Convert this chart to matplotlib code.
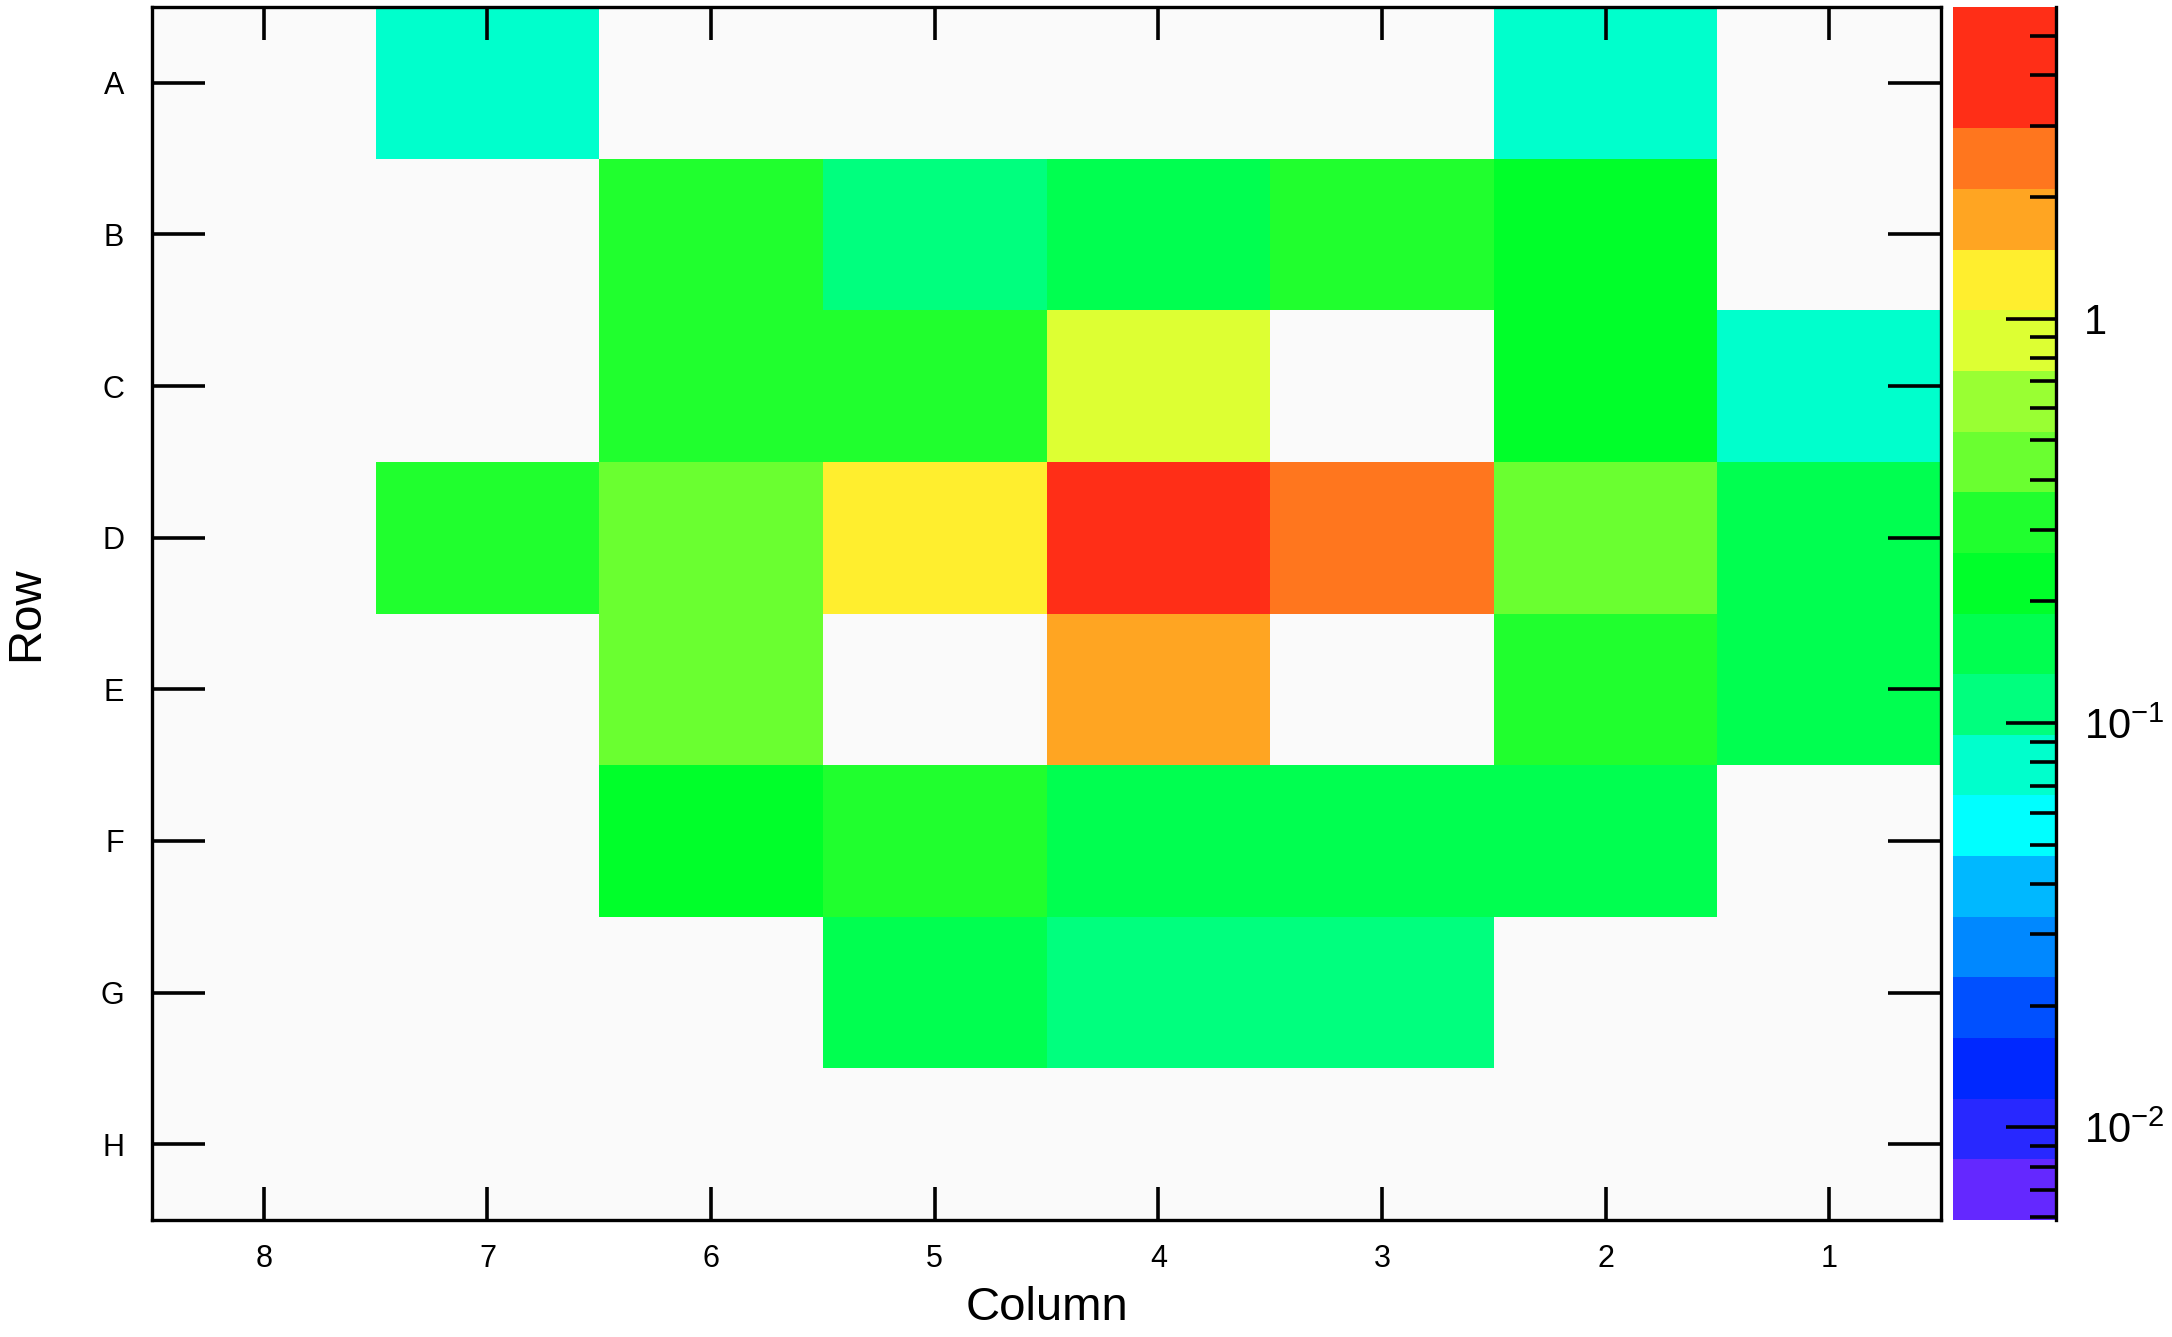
import numpy as np
import matplotlib
matplotlib.use("Agg")
import matplotlib.pyplot as plt
from matplotlib.colors import ListedColormap, LogNorm
from matplotlib.ticker import LogLocator, FuncFormatter

plt.rcParams['font.family'] = ['Liberation Sans', 'DejaVu Sans']
plt.rcParams['mathtext.fontset'] = 'custom'
plt.rcParams['mathtext.rm'] = 'Liberation Sans'

# filas y columnas del mapa (columnas de izquierda a derecha)
rows = ['A', 'B', 'C', 'D', 'E', 'F', 'G', 'H']
columns = [8, 7, 6, 5, 4, 3, 2, 1]

nan = np.nan
row_A = [nan, 0.078, nan, nan, nan, nan, 0.076, nan]
row_B = [nan, nan, 0.31, 0.115, 0.16, 0.30, 0.22, nan]
row_C = [nan, nan, 0.32, 0.30, 0.88, nan, 0.23, 0.079]
row_D = [nan, 0.30, 0.45, 1.25, 5.9, 2.5, 0.44, 0.16]
row_E = [nan, nan, 0.46, nan, 1.75, nan, 0.31, 0.155]
row_F = [nan, nan, 0.22, 0.31, 0.16, 0.155, 0.16, nan]
row_G = [nan, nan, nan, 0.16, 0.11, 0.112, nan, nan]
row_H = [nan] * 8

values = np.array([row_A, row_B, row_C, row_D, row_E, row_F, row_G, row_H])

# paleta tipo arcoiris con 20 niveles
palette = ['#6428FF', '#2828FF', '#0028FF', '#0050FF', '#0088FF',
           '#00B8FF', '#00FFFF', '#00FFCC', '#00FF7E', '#00FF50',
           '#00FF2A', '#20FF2E', '#6AFF30', '#99FF33', '#DDFF33',
           '#FFEE2E', '#FFA522', '#FF761E', '#FF2E17', '#FF2E17']
cmap = ListedColormap(palette)

zmax = np.nanmax(values)
zmin = zmax / 1000

W, H = 2172, 1337
fig = plt.figure(figsize=(W / 100, H / 100), dpi=100)
ax = fig.add_axes([152 / W, 1 - 1220 / H, (1941 - 152) / W, (1220 - 7) / H])
cax = fig.add_axes([1953 / W, 1 - 1220 / H, (2056 - 1953) / W, (1220 - 7) / H])

ax.set_facecolor('#FAFAFA')
x_edges = np.arange(len(columns) + 1) - 0.5
y_edges = np.arange(len(rows) + 1) - 0.5
mesh = ax.pcolormesh(x_edges, y_edges, np.ma.masked_invalid(values),
                     cmap=cmap, norm=LogNorm(vmin=zmin, vmax=zmax),
                     antialiased=False, linewidth=0)
ax.set_xlim(-0.5, len(columns) - 0.5)
ax.set_ylim(len(rows) - 0.5, -0.5)

ax.set_xticks(np.arange(len(columns)))
ax.set_xticklabels([str(c) for c in columns])
ax.set_yticks(np.arange(len(rows)))
ax.set_yticklabels(rows)
ax.tick_params(axis='x', direction='in', top=True, bottom=True,
               length=24, width=2.6, labelsize=22, pad=17)
ax.tick_params(axis='y', direction='in', left=True, right=True,
               length=38, width=2.6, labelsize=22, pad=20)
for s in ax.spines.values():
    s.set_linewidth(2.4)

ax.set_xlabel('Column', fontsize=34, labelpad=9)
ax.set_ylabel('Row', fontsize=34, labelpad=38)

cb = fig.colorbar(mesh, cax=cax)
cb.outline.set_visible(False)
cax.spines['right'].set_visible(True)
cax.spines['right'].set_linewidth(2.4)
cax.yaxis.set_major_locator(LogLocator(base=10))
cax.yaxis.set_minor_locator(LogLocator(base=10, subs=np.arange(2, 10)))

def etiqueta(v, pos):
    if abs(v - 1) < 1e-9:
        return '1'
    return r'$\mathregular{10^{%d}}$' % round(np.log10(v))

cax.yaxis.set_major_formatter(FuncFormatter(etiqueta))
cax.yaxis.set_minor_formatter(FuncFormatter(lambda v, p: ''))
cax.tick_params(which='major', direction='in', right=True, left=False,
                length=36, width=2.6, labelsize=30, pad=20)
cax.tick_params(which='minor', direction='in', right=True, left=False,
                length=19, width=2.6)

fig.savefig('out.png', dpi=100)
